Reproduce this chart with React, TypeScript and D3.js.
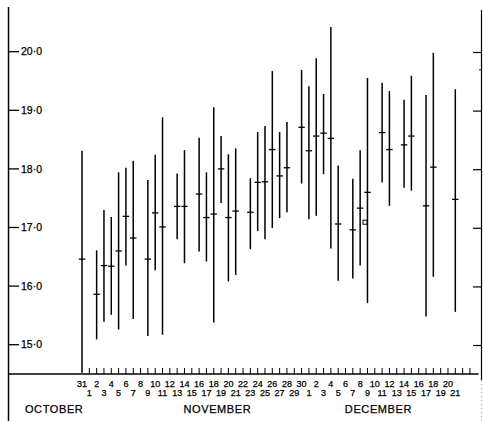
import React from "react";
import * as d3 from "d3";

// Daily temperature readings: maximum, mean and minimum (°C), Oct 31 – Dec 21
const days = [
  "10-31", "11-02", "11-03", "11-04", "11-05", "11-06", "11-07", "11-09", "11-10", "11-11",
  "11-13", "11-14", "11-16", "11-17", "11-18", "11-19", "11-20", "11-21", "11-23", "11-24",
  "11-25", "11-26", "11-27", "11-28", "11-30", "12-01", "12-02", "12-03", "12-04", "12-05",
  "12-07", "12-08", "12-09", "12-11", "12-12", "12-14", "12-15", "12-17", "12-18", "12-21",
];
const maxTemp = [
  18.31, 16.61, 17.3, 17.18, 17.94, 18.02, 18.14, 17.81, 18.24, 18.88,
  17.92, 18.32, 18.53, 17.94, 19.05, 18.56, 18.25, 18.35, 17.84, 18.63,
  18.73, 19.67, 18.63, 18.8, 19.69, 19.41, 19.89, 19.28, 20.42, 18.06,
  17.83, 18.32, 19.55, 19.47, 19.33, 19.18, 19.59, 19.26, 19.98, 19.36,
];
const meanTemp = [
  16.46, 15.86, 16.35, 16.34, 16.6, 17.19, 16.82, 16.46, 17.25, 17.01,
  17.36, 17.36, 17.57, 17.17, 17.23, 18.0, 17.17, 17.28, 17.26, 17.77,
  17.78, 18.33, 17.88, 18.02, 18.71, 18.31, 18.56, 18.61, 18.52, 17.06,
  16.96, 17.33, 17.6, 18.62, 18.33, 18.41, 18.56, 17.37, 18.03, 17.48,
];
const minTemp = [
  14.52, 15.09, 15.39, 15.51, 15.26, 16.35, 15.44, 15.15, 16.27, 15.17,
  16.8, 16.39, 16.59, 16.42, 15.38, 17.42, 16.08, 16.19, 16.63, 16.94,
  16.8, 16.99, 17.16, 17.26, 17.75, 17.14, 17.2, 17.91, 16.64, 16.09,
  16.13, 16.35, 15.71, 17.77, 17.37, 17.68, 17.63, 15.48, 16.16, 15.56,
];

// Single extra reading shown as an open square
const extraDays = ["12-09"];
const extraValues = [17.09];

const yTicks = [15, 16, 17, 18, 19, 20];
const rightMinorTicks = [19.69];
const monthNames = ["OCTOBER", "NOVEMBER", "DECEMBER"];

const W = 483;
const H = 421;
const FONT = "'Liberation Sans', Arial, Helvetica, sans-serif";
const INK = "#000";

const parse = d3.timeParse("%Y-%m-%d");
const origin = new Date(2000, 9, 31);
const dayIndex = (d: string) => d3.timeDay.count(origin, parse("2000-" + d) as Date);
const lastDay = dayIndex("12-21");

export default function App() {
  const x = d3.scaleLinear().domain([0, lastDay]).range([82, 455.3]);
  const y = d3.scaleLinear().domain([15, 20]).range([344.7, 51.7]);

  const axisLeft = 8.5;
  const axisRight = 481.5;
  const axisY = y(14.5);
  const fmt = (v: number) => d3.format(".1f")(v).replace(".", "·");

  const tickIdx = d3.range(1, lastDay + 3);
  const labelIdx = d3.range(0, lastDay + 1);
  const monthAt = [-3.8, 18.5, 40.5];

  const rows = days.map((d, i) => ({
    i: dayIndex(d),
    hi: maxTemp[i],
    mean: meanTemp[i],
    lo: minTemp[i],
  }));

  const textStyle = { stroke: INK, strokeWidth: 0.25 };

  return (
    <svg
      width={W}
      height={H}
      viewBox={`0 0 ${W} ${H}`}
      style={{ position: "absolute", left: 0, top: 0, background: "#fff" }}
    >
      <rect x={0} y={0} width={W} height={H} fill="#fff" />

      {/* left axis */}
      <line x1={axisLeft} x2={axisLeft} y1={7} y2={H} stroke={INK} strokeWidth={1.5} />
      {yTicks.map((t) => (
        <g key={"yl" + t}>
          <line x1={axisLeft} x2={19} y1={y(t)} y2={y(t)} stroke={INK} strokeWidth={1.3} />
          <text
            x={21}
            y={y(t)}
            dy="0.35em"
            fontFamily={FONT}
            fontSize={10.5}
            fill={INK}
            style={textStyle}
          >
            {fmt(t)}
          </text>
        </g>
      ))}

      {/* right axis */}
      <line x1={axisRight} x2={axisRight} y1={10} y2={axisY + 6} stroke={INK} strokeWidth={1.2} />
      <line
        x1={axisRight}
        x2={axisRight}
        y1={axisY + 6}
        y2={H}
        stroke="#999"
        strokeWidth={0.8}
        strokeDasharray="1.5 2.5"
      />
      {yTicks.map((t) => (
        <line
          key={"yr" + t}
          x1={axisRight}
          x2={473}
          y1={y(t) + 0.8}
          y2={y(t) + 0.8}
          stroke={INK}
          strokeWidth={1.2}
        />
      ))}
      {rightMinorTicks.map((t) => (
        <line key={"ym" + t} x1={axisRight} x2={479} y1={y(t)} y2={y(t)} stroke={INK} strokeWidth={1} />
      ))}

      {/* bottom axis */}
      <line x1={axisLeft} x2={axisRight - 3} y1={axisY} y2={axisY} stroke={INK} strokeWidth={1.3} />
      {tickIdx.map((i) => (
        <line
          key={"xt" + i}
          x1={x(i)}
          x2={x(i)}
          y1={axisY}
          y2={axisY - 6}
          stroke={INK}
          strokeWidth={1}
        />
      ))}
      {labelIdx.map((i) => {
        const date = d3.timeDay.offset(origin, i);
        return (
          <text
            key={"xl" + i}
            x={x(i)}
            y={i % 2 === 0 ? 386.5 : 395.5}
            textAnchor="middle"
            fontFamily={FONT}
            fontSize={9}
            fill={INK}
            style={textStyle}
          >
            {date.getDate()}
          </text>
        );
      })}
      {monthNames.map((m, k) => (
        <text
          key={m}
          x={x(monthAt[k])}
          y={413}
          textAnchor="middle"
          fontFamily={FONT}
          fontSize={11}
          letterSpacing={0.6}
          fill={INK}
          style={textStyle}
        >
          {m}
        </text>
      ))}

      {/* daily ranges with mean marks */}
      {rows.map((r) => (
        <g key={"b" + r.i}>
          <line
            x1={x(r.i)}
            x2={x(r.i)}
            y1={y(r.hi)}
            y2={y(r.lo)}
            stroke={INK}
            strokeWidth={1.5}
          />
          <line
            x1={x(r.i) - 3.2}
            x2={x(r.i) + 3.2}
            y1={y(r.mean)}
            y2={y(r.mean)}
            stroke={INK}
            strokeWidth={1.3}
          />
        </g>
      ))}

      {extraDays.map((d, k) => (
        <rect
          key={"ex" + d}
          x={x(dayIndex(d)) - 4.5}
          y={y(extraValues[k]) - 2}
          width={4}
          height={4}
          fill="#fff"
          stroke={INK}
          strokeWidth={1}
        />
      ))}
    </svg>
  );
}
